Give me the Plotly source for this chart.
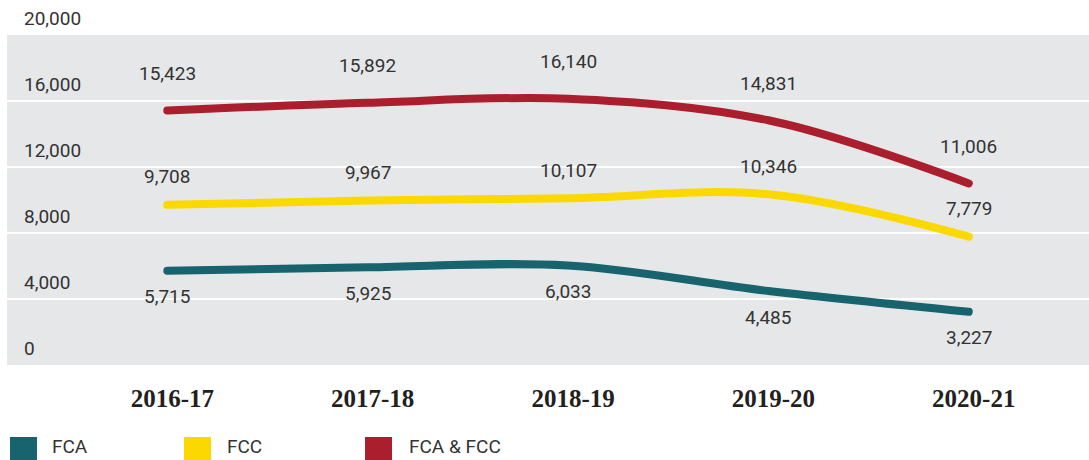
import plotly.graph_objects as go

years = ["2016-17", "2017-18", "2018-19", "2019-20", "2020-21"]
fca = [5715, 5925, 6033, 4485, 3227]
fcc = [9708, 9967, 10107, 10346, 7779]
fca_fcc = [15423, 15892, 16140, 14831, 11006]
series_names = ["FCA", "FCC", "FCA & FCC"]
y_ticks = [0, 4000, 8000, 12000, 16000, 20000]

colors = {"FCA": "#17636E", "FCC": "#FBD800", "FCA & FCC": "#AA1E2D"}
label_shift = {"FCA": -26, "FCC": 28, "FCA & FCC": 37}

W, H = 1089, 460
ML, MR, MT, MB = 7, 0, 35, 95
PW, PH = W - ML - MR, H - MT - MB


def px2x(px):
    return (px - ML) / PW


def px2y(py):
    return (H - MB - py) / PH


fig = go.Figure()
data = {"FCA": fca, "FCC": fcc, "FCA & FCC": fca_fcc}
for name in series_names:
    fig.add_trace(go.Scatter(
        x=list(range(len(years))), y=data[name], name=name, mode="lines",
        line=dict(color=colors[name], width=8, shape="spline", smoothing=1),
        showlegend=False, hoverinfo="x+y+name",
    ))
    for i, v in enumerate(data[name]):
        fig.add_annotation(
            x=i, y=v, xref="x", yref="y", text=f"{v:,}", showarrow=False,
            yshift=label_shift[name], xanchor="center", yanchor="middle",
            font=dict(family="Roboto", size=19, color="#333333"),
        )

# y tick labels (above the gridlines, left aligned)
for t in y_ticks:
    fig.add_annotation(
        x=px2x(22), y=t, xref="paper", yref="y", text=f"{t:,}", showarrow=False,
        xanchor="left", yanchor="bottom", yshift=3,
        font=dict(family="Roboto", size=19, color="#333333"),
    )

# legend drawn as squares + text
legend_pos = [(10, 50), (184, 225), (365, 407)]
for name, (sx, tx) in zip(series_names, legend_pos):
    fig.add_shape(type="rect", xref="paper", yref="paper",
                  x0=px2x(sx), x1=px2x(sx + 27), y0=px2y(437), y1=px2y(464),
                  fillcolor=colors[name], line=dict(width=0), layer="above")
    fig.add_annotation(
        x=px2x(tx), y=px2y(460), xref="paper", yref="paper", text=name,
        showarrow=False, xanchor="left", yanchor="bottom",
        font=dict(family="Roboto", size=19, color="#333333"),
    )

fig.update_layout(
    width=W, height=H,
    margin=dict(l=ML, r=MR, t=MT, b=MB),
    paper_bgcolor="white", plot_bgcolor="#E6E7E9",
    showlegend=False,
    xaxis=dict(
        range=[-0.8, 4.6], tickmode="array", tickvals=list(range(len(years))),
        ticktext=years, showgrid=False, zeroline=False, showline=False,
        ticks="", ticklabelstandoff=16, ticklabelshift=5,
        tickfont=dict(family="Liberation Serif", size=25, color="#231F20", weight="bold"),
        fixedrange=True,
    ),
    yaxis=dict(
        range=[0, 20000], tickvals=y_ticks, showticklabels=False,
        showgrid=True, gridcolor="white", gridwidth=1.5, zeroline=False,
        showline=False, fixedrange=True,
    ),
)

fig.write_html(
    "out.html",
    config={"displayModeBar": False},
    post_script=(
        "document.body.style.margin='0';document.body.style.overflow='hidden';"
        "document.head.insertAdjacentHTML('beforeend',"
        "'<style>.js-line{stroke-linecap:round;stroke-linejoin:round}</style>');"
    ),
)
